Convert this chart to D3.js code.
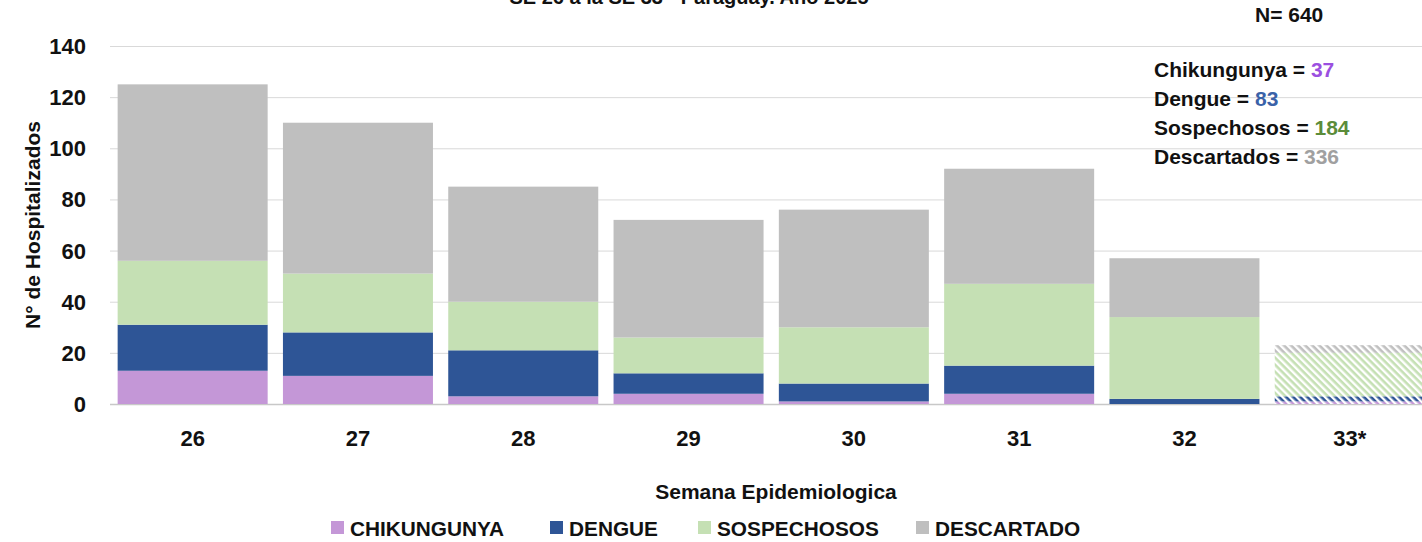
<!DOCTYPE html>
<html><head><meta charset="utf-8">
<script src="https://cdn.jsdelivr.net/npm/d3@7"></script>
<style>
html,body{margin:0;padding:0;background:#fff;overflow:hidden}
text{font-family:"Liberation Sans",Arial,sans-serif;font-weight:bold;fill:#111}
</style></head><body>
<svg id="c" width="1422" height="542"></svg>
<script>
const weeks = ["26","27","28","29","30","31","32","33*"];
const chikungunya = [13,11,3,4,1,4,0,1];
const dengue      = [18,17,18,8,7,11,2,2];
const sospechosos = [25,23,19,14,22,32,32,17];
const descartado  = [69,59,45,46,46,45,23,3];
const seriesNames = ["CHIKUNGUNYA","DENGUE","SOSPECHOSOS","DESCARTADO"];
const seriesColors = ["#c497d7","#2e5596","#c5e0b4","#bfbfbf"];
const yTicks = [0,20,40,60,80,100,120,140];
const totals = [["Chikungunya = ","37","#9b4fe0"],["Dengue = ","83","#3a62a8"],["Sospechosos = ","184","#5b8c3a"],["Descartados = ","336","#a0a0a0"]];
const partialWeek = "33*";

const svg = d3.select("#c");
const x = d3.scaleBand().domain(weeks).range([110,1432.4]).paddingInner(0.0925).paddingOuter(0.04625);
const y = d3.scaleLinear().domain([0,140]).range([404,46]);

// patterns for partial week
const defs = svg.append("defs");
seriesColors.forEach((c,i)=>{
  const p = defs.append("pattern").attr("id","hatch"+i).attr("patternUnits","userSpaceOnUse")
    .attr("width",5).attr("height",5).attr("patternTransform","rotate(45)");
  p.append("rect").attr("width",5).attr("height",5).attr("fill","#fff");
  p.append("rect").attr("width",5).attr("height",2.6).attr("fill",c);
});

// title (clipped at top as in the reference)
svg.append("text").attr("x",689).attr("y",4).attr("text-anchor","middle")
  .style("font-size","20px").text("SE 26 a la SE 33 - Paraguay. Año 2025");

// grid
svg.append("g").selectAll("line").data(yTicks).join("line")
  .attr("x1",110).attr("x2",1422).attr("y1",d=>y(d)+0.5).attr("y2",d=>y(d)+0.5)
  .attr("stroke",d=>d===0?"#c8c8c8":"#d9d9d9").attr("stroke-width",d=>d===0?1.5:1);

// y tick labels
svg.append("g").selectAll("text").data(yTicks).join("text")
  .attr("x",86).attr("y",d=>y(d)+8).attr("text-anchor","end")
  .style("font-size","22px").text(d=>d);

// y axis title
svg.append("text").attr("transform","translate(40,225) rotate(-90)").attr("text-anchor","middle")
  .style("font-size","21px").text("N° de Hospitalizados");

// stacked bars
const rows = weeks.map((w,i)=>({week:w,CHIKUNGUNYA:chikungunya[i],DENGUE:dengue[i],SOSPECHOSOS:sospechosos[i],DESCARTADO:descartado[i]}));
const stack = d3.stack().keys(seriesNames)(rows);
svg.append("g").selectAll("g").data(stack).join("g")
  .each(function(s,si){
    d3.select(this).selectAll("rect").data(s).join("rect")
      .attr("x",d=>x(d.data.week)).attr("width",x.bandwidth())
      .attr("y",d=>y(d[1])).attr("height",d=>y(d[0])-y(d[1]))
      .attr("fill",d=>d.data.week===partialWeek?`url(#hatch${si})`:seriesColors[si]);
  });

// x tick labels
svg.append("g").selectAll("text").data(weeks).join("text")
  .attr("x",d=>x(d)+x.bandwidth()/2).attr("y",446).attr("text-anchor","middle")
  .style("font-size","22px").text(d=>d);

// x axis title
svg.append("text").attr("x",776).attr("y",499).attr("text-anchor","middle")
  .style("font-size","21px").text("Semana Epidemiologica");

// legend
const legX = [331,550,698,916];
const lg = svg.append("g").selectAll("g").data(seriesNames).join("g")
  .attr("transform",(d,i)=>`translate(${legX[i]},521)`);
lg.append("rect").attr("width",13).attr("height",13).attr("fill",(d,i)=>seriesColors[i]);
lg.append("text").attr("x",19).attr("y",14.5).style("font-size","20.8px").text(d=>d);

// N and totals
svg.append("text").attr("x",1255).attr("y",22).style("font-size","21px").text("N= 640");
totals.forEach((t,i)=>{
  const tx = svg.append("text").attr("x",1154).attr("y",77+i*29).style("font-size","21px");
  tx.append("tspan").text(t[0]);
  tx.append("tspan").style("fill",t[2]).text(t[1]);
});
</script>
</body></html>
